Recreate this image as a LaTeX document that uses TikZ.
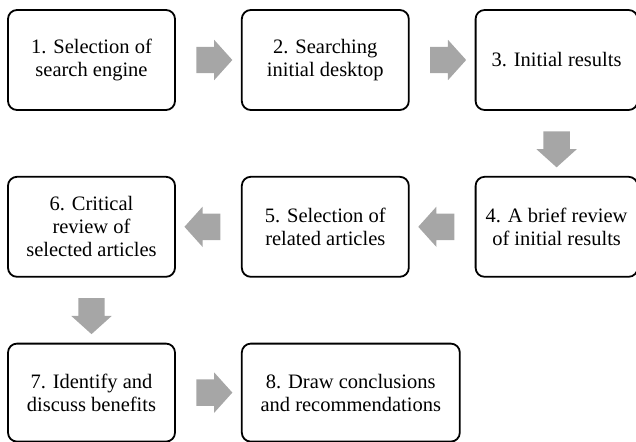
\documentclass[tikz,border=0pt]{standalone}
\usepackage{fontspec}
\setmainfont{Liberation Serif}
\usepackage{tikz}
\usetikzlibrary{positioning,calc,shapes.arrows}
\definecolor{stepline}{HTML}{000000}
\definecolor{arrgray}{HTML}{A6A6A6}
\tikzset{
  stepbox/.style={draw=stepline, rounded corners=9pt, line width=1.8pt, align=center,
    minimum width=167pt, minimum height=100pt, inner sep=0pt,
    font=\fontsize{20.5}{23}\selectfont},
  narrowbox/.style={stepbox, minimum width=162pt},
  widebox/.style={stepbox, minimum width=218pt, minimum height=98pt},
  blockarr/.style={single arrow, fill=arrgray, draw=none, inner xsep=0pt, inner ysep=13pt,
    minimum height=36pt, single arrow head extend=7pt, single arrow tip angle=96}
}

\begin{document}
\begin{tikzpicture}[node distance=65pt]
        \useasboundingbox (0pt,0pt) rectangle (636pt,-441pt);
        \node[stepbox] (sel) at (91.5pt,-60pt) {1. Selection of\\search engine};
        \node[stepbox, right=of sel] (search) {2. Searching\\initial desktop};
        \node[narrowbox, right=of search] (init) {3. Initial results};
        \node[narrowbox, below=of init] (brief) {4. A brief review\\of initial results};
        \node[stepbox, left=of brief] (related) {5. Selection of\\related articles};
        \node[stepbox, left=of related] (critical) {6. Critical\\review of\\selected articles};
        \node[stepbox, minimum height=98pt, below=of critical] (benefit) {7. Identify and\\discuss benefits};
        \node[widebox, right=of benefit] (concl) {8. Draw conclusions\\and recommendations};
        % block arrows between the steps
        \node[blockarr] (a12) at ($(sel.east)!0.5!(search.west)$) {};
        \node[blockarr] (a23) at ($(search.east)!0.5!(init.west)$) {};
        \node[blockarr, rotate=-90] (a34) at ($(init.south)!0.5!(brief.north)$) {};
        \node[blockarr, rotate=180] (a45) at ($(brief.west)!0.5!(related.east)$) {};
        \node[blockarr, rotate=180] (a56) at ($(related.west)!0.5!(critical.east)$) {};
        \node[blockarr, rotate=-90] (a67) at ($(critical.south)!0.5!(benefit.north)$) {};
        \node[blockarr] (a78) at ($(benefit.east)!0.5!(concl.west)$) {};
      \end{tikzpicture}
\end{document}
